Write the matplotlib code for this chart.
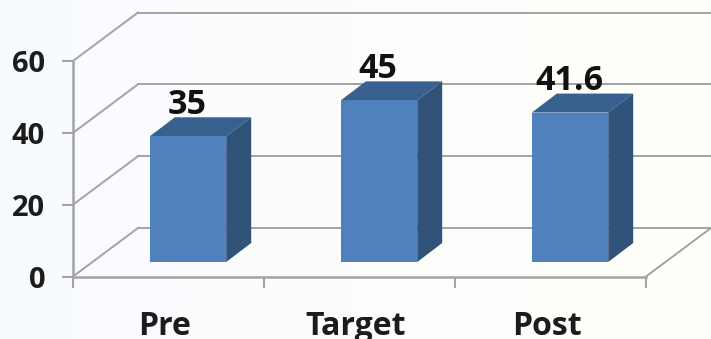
import numpy as np
import matplotlib
matplotlib.use("Agg")
import matplotlib.pyplot as plt
from matplotlib.colors import LinearSegmentedColormap
from matplotlib.patches import Polygon
from matplotlib.transforms import Affine2D

categories = ["Pre", "Target", "Post"]
values = [35, 45, 41.6]
value_labels = ["35", "45", "41.6"]
y_ticks = [0, 20, 40, 60]

W, H = 711, 339
fig = plt.figure(figsize=(W / 100, H / 100), dpi=100)
plt.rcParams["font.family"] = ["Open Sans", "DejaVu Sans"]

# background gradient
bg = fig.add_axes([0, 0, 1, 1], zorder=0)
cmap = LinearSegmentedColormap.from_list("bg", ["#f8fbff", "#fdfdfd", "#fffffb"])
bg.imshow(np.linspace(0, 1, 256)[None, :], aspect="auto", cmap=cmap, extent=[0, 1, 0, 1])
bg.axis("off")

# axes = the front plane of the pseudo-3D box
L, R, T, B = 73, 646, 61, 276.5
ax = fig.add_axes([L / W, 1 - B / H, (R - L) / W, (B - T) / H], zorder=1)
ax.set_xlim(0, len(categories))
ax.set_ylim(0, 60)
ax.patch.set_alpha(0)
for s in ax.spines.values():
    s.set_visible(False)

GRID = "#a3a3a3"
DX, DY = 65, 48.5          # box depth, px
base = ax.transData
back = base + Affine2D().translate(DX, DY)
n = len(categories)

for v in y_ticks:
    x0, y0 = base.transform((0, v))
    ax.plot([0, n], [v, v], transform=back, color=GRID, lw=1.4, clip_on=False, zorder=1)
    # wall side line
    bx, by = back.transform((0, v))
    fig.add_artist(plt.Line2D([x0 / W, bx / W], [y0 / H, by / H], color=GRID, lw=1.4, zorder=1.5))

# floor right edge and front axes
fx, fy = base.transform((n, 0))
bx, by = back.transform((n, 0))
fig.add_artist(plt.Line2D([fx / W, bx / W], [fy / H, by / H], color=GRID, lw=1.4, zorder=1.5))
ax.plot([0, n], [0, 0], color=GRID, lw=1.8, clip_on=False, zorder=2)
ax.plot([0, 0], [0, 60], color=GRID, lw=1.8, clip_on=False, zorder=2)

ax.set_xticks(range(n + 1))
ax.set_xticklabels([])
ax.set_yticks(y_ticks)
ax.tick_params(axis="x", length=8, width=1.5, color=GRID, direction="out")
ax.tick_params(axis="y", length=8, width=1.5, color=GRID, direction="out", pad=12,
               labelsize=21, labelcolor="#1c1c1c")
for t in ax.get_yticklabels():
    t.set_fontweight("bold")

# bars
BW = 0.4
OX, OY = 19.5, 14.5        # bar offset from the front plane, px
SX, SY = 25, 19            # bar depth, px
FRONT, TOP, SIDE = "#4f81bd", "#386190", "#325379"
shift = base + Affine2D().translate(OX, OY)
centers = np.arange(n) + 0.5
ax.bar(centers, values, width=BW, color=FRONT, transform=shift, clip_on=False, zorder=5)
bar_top = base + Affine2D().translate(OX + SX, OY + SY)
for c, v, lab in zip(centers, values, value_labels):
    l, r = c - BW / 2, c + BW / 2
    pts = np.vstack([shift.transform([(l, v), (r, v)]), bar_top.transform([(r, v), (l, v)])])
    ax.add_patch(Polygon(pts, closed=True, transform=None, facecolor=TOP, edgecolor="none", zorder=4, clip_on=False))
    pts = np.vstack([shift.transform([(r, 0), (r, v)]), bar_top.transform([(r, v), (r, 0)])])
    ax.add_patch(Polygon(pts, closed=True, transform=None, facecolor=SIDE, edgecolor="none", zorder=4, clip_on=False))
    ax.annotate(lab, xy=(c, v), xycoords=base, xytext=(OX - 1, 46),
                textcoords="offset pixels", ha="center", va="center", fontsize=24.5,
                fontweight="bold", color="#111111", zorder=6, annotation_clip=False)

for c, lab in zip(centers, categories):
    ax.annotate(lab, xy=(c, 0), xycoords=base, xytext=(-4, -50), textcoords="offset pixels",
                ha="center", va="center", fontsize=23, fontweight="bold", color="#1c1c1c",
                annotation_clip=False)

fig.savefig("out.png", dpi=100)
